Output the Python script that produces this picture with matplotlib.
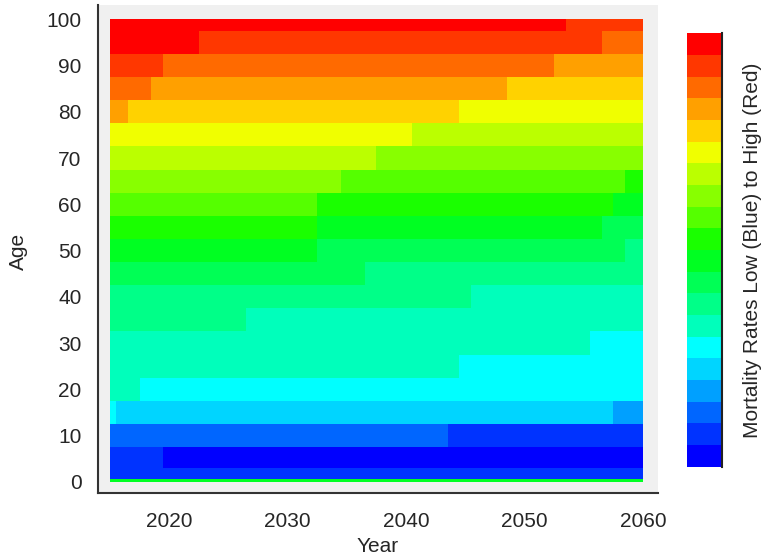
import numpy as np
import matplotlib
matplotlib.use('Agg')
import matplotlib.pyplot as plt
from matplotlib.colors import ListedColormap, BoundaryNorm

plt.rcParams['font.family'] = ['Liberation Sans', 'DejaVu Sans']

years = np.arange(2015, 2061)
ages = np.array([0, 1, 5, 10, 15, 20, 25, 30, 35, 40, 45, 50,
                 55, 60, 65, 70, 75, 80, 85, 90, 95, 100])

# 20 colour levels, low (blue) to high (red)
colors = ['#0000ff', '#0033ff', '#0066ff', '#00a0ff', '#00d5ff',
          '#00ffff', '#00ffbb', '#00ff88', '#00ff55', '#00ff22',
          '#1aff00', '#55ff00', '#88ff00', '#bbff00', '#f0ff00',
          '#ffd200', '#ffa000', '#ff6a00', '#ff3700', '#ff0000']

# for each age row: (year the level starts, level)
steps = {
    0: [(2015, 9)],
    1: [(2015, 1)],
    5: [(2015, 1), (2020, 0)],
    10: [(2015, 2), (2044, 1)],
    15: [(2015, 5), (2016, 4), (2058, 3)],
    20: [(2015, 6), (2018, 5)],
    25: [(2015, 6), (2045, 5)],
    30: [(2015, 6), (2056, 5)],
    35: [(2015, 7), (2027, 6)],
    40: [(2015, 7), (2046, 6)],
    45: [(2015, 8), (2037, 7)],
    50: [(2015, 9), (2033, 8), (2059, 7)],
    55: [(2015, 10), (2033, 9), (2057, 8)],
    60: [(2015, 11), (2033, 10), (2058, 9)],
    65: [(2015, 12), (2035, 11), (2059, 10)],
    70: [(2015, 13), (2038, 12)],
    75: [(2015, 14), (2041, 13)],
    80: [(2015, 16), (2017, 15), (2045, 14)],
    85: [(2015, 17), (2019, 16), (2049, 15)],
    90: [(2015, 18), (2020, 17), (2053, 16)],
    95: [(2015, 19), (2023, 18), (2057, 17)],
    100: [(2015, 19), (2054, 18)],
}

Z = np.zeros((len(ages), len(years)), dtype=int)
for i, a in enumerate(ages):
    for y0, lev in steps[a]:
        Z[i, years >= y0] = lev


def edges(v):
    v = np.asarray(v, float)
    return np.concatenate([[v[0]], (v[1:] + v[:-1]) / 2, [v[-1]]])


txt = '#262626'
fig = plt.figure(figsize=(7.64, 5.6), dpi=100)
ax = fig.add_axes([0.1279, 0.1196, 0.7334, 0.8715])
ax.set_facecolor('#f0f0f0')

cmap = ListedColormap(colors)
norm = BoundaryNorm(np.arange(-0.5, len(colors)), cmap.N)
mesh = ax.pcolormesh(edges(years), edges(ages), Z, cmap=cmap, norm=norm)

ax.set_xlim(2013.97, 2061.27)
ax.set_ylim(-2.44, 103.1)
ax.set_xticks([2020, 2030, 2040, 2050, 2060])
ax.set_yticks(range(0, 101, 10))
ax.tick_params(axis='x', length=0, pad=14, labelsize=15, labelcolor=txt)
ax.tick_params(axis='y', length=0, pad=11.5, labelsize=15, labelcolor=txt)
for s in ['top', 'right']:
    ax.spines[s].set_visible(False)
for s in ['left', 'bottom']:
    ax.spines[s].set_color('#333333')
    ax.spines[s].set_linewidth(1.5)

fig.text(378 / 764, 1 - 546 / 560, 'Year', ha='center', va='center',
         fontsize=15, color=txt)
fig.text(18 / 764, 1 - 251 / 560, 'Age', ha='center', va='center',
         rotation=90, fontsize=15, color=txt)

cax = fig.add_axes([0.8988, 0.1666, 0.0458, 0.7739])
cb = fig.colorbar(mesh, cax=cax)
cb.set_ticks([])
cb.minorticks_off()
cax.tick_params(which='both', length=0)
cb.outline.set_visible(False)
cax.spines['right'].set_visible(True)
cax.spines['right'].set_color('#222222')
cax.spines['right'].set_linewidth(1.5)
fig.text(752 / 764, 1 - 250 / 560, 'Mortality Rates Low (Blue) to High (Red)',
         ha='center', va='center', rotation=90, fontsize=15, color=txt)

fig.savefig('out.png', dpi=100)
